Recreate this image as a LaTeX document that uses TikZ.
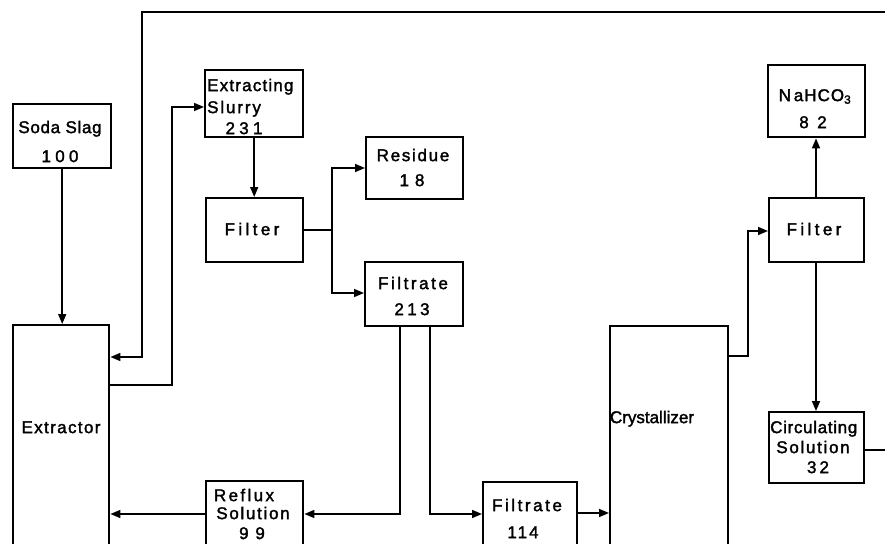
\documentclass[tikz,border=0pt]{standalone}
\usepackage{fontspec}
\setmainfont[FakeBold=1.8]{Liberation Sans}
\usetikzlibrary{arrows.meta}
\newcommand\lsp[2]{{\addfontfeature{LetterSpace=#1}#2}}
\begin{document}
\begin{tikzpicture}[x=1pt,y=-1pt,
  box/.style={draw, line width=2.4pt, inner sep=0pt, anchor=north west},
  lbl/.style={inner sep=0pt, font=\fontsize{17}{20}\selectfont, text height=12.2pt, text depth=0pt},
  arr/.style={line width=1.6pt, -{Triangle[length=10pt,width=8pt]}},
  ln/.style={line width=1.6pt}]
\useasboundingbox (0,0) rectangle (885,543);
\clip (0,0) rectangle (885,543);
\fill[white] (0,0) rectangle (885,543);
% boxes
\node[box, minimum width=98pt, minimum height=64pt] (soda) at (12,103) {};
\node[box, minimum width=98pt, minimum height=67pt] (slurry) at (204,69) {};
\node[box, minimum width=97pt, minimum height=64pt] (filter1) at (205,197) {};
\node[box, minimum width=97pt, minimum height=62pt] (residue) at (365,136) {};
\node[box, minimum width=98pt, minimum height=64pt] (filt213) at (364,261) {};
\node[box, minimum width=96pt, minimum height=240pt] (ext) at (12,324) {};
\node[box, minimum width=97pt, minimum height=90pt] (reflux) at (205,480) {};
\node[box, minimum width=94pt, minimum height=90pt] (filt114) at (482,481) {};
\node[box, minimum width=118pt, minimum height=240pt] (cryst) at (609,325) {};
\node[box, minimum width=97pt, minimum height=72pt] (nahco) at (767,64) {};
\node[box, minimum width=95pt, minimum height=64pt] (filter2) at (768,197) {};
\node[box, minimum width=95pt, minimum height=71pt] (circ) at (768,411) {};
% labels
\node[lbl] (soda-a) at (60,127) {\lsp{4}{Soda Slag}};
\node[lbl] (soda-b) at (60,156) {\lsp{25}{100}};
\node[lbl, anchor=west] (slurry-a) at (207,85) {\lsp{7}{Extracting}};
\node[lbl, anchor=west] (slurry-b) at (207,107) {\lsp{11}{Slurry}};
\node[lbl] (slurry-c) at (244,128) {\lsp{25}{231}};
\node[lbl] (filter1-a) at (252,229) {\lsp{20}{Filter}};
\node[lbl] (residue-a) at (413,155) {\lsp{10}{Residue}};
\node[lbl] (residue-b) at (412,180) {\lsp{35}{18}};
\node[lbl] (filt213-a) at (413,283) {\lsp{15}{Filtrate}};
\node[lbl] (filt213-b) at (412,309) {\lsp{20}{213}};
\node[lbl] (ext-a) at (61,427) {\lsp{8}{Extractor}};
\node[lbl] (reflux-a) at (244,495) {\lsp{14}{Reflux}};
\node[lbl] (reflux-b) at (253,513) {\lsp{10}{Solution}};
\node[lbl] (reflux-c) at (252,533) {\lsp{40}{99}};
\node[lbl] (filt114-a) at (527,505) {\lsp{15}{Filtrate}};
\node[lbl] (filt114-b) at (523,532) {\lsp{12}{114}};
\node[lbl] (cryst-a) at (652,417) {Crystallizer};
\node[lbl] (nahco-a) at (815,95) {\lsp{6}{N\,aHCO\textsubscript{3}}};
\node[lbl] (nahco-b) at (813,122) {\lsp{50}{82}};
\node[lbl] (filter2-a) at (814,229) {\lsp{20}{Filter}};
\node[lbl, anchor=west] (circ-a) at (770,427) {\lsp{4}{Circulating}};
\node[lbl] (circ-b) at (813,447) {\lsp{10}{Solution}};
\node[lbl] (circ-c) at (818,467) {\lsp{18}{32}};
% connectors
\coordinate (rin) at (890,12);
\coordinate (rout) at (890,450);
\coordinate (split) at (filter1.east -| 332,0);
\draw[arr] (soda.south) -- (soda.south |- ext.north);
\draw[arr] (rin) -| (142,357) -- (ext.east |- 0,357);
\draw[arr] (ext.east |- 0,385) -| (172,107) -- (slurry.west |- 0,107);
\draw[arr] (slurry.south) -- (slurry.south |- filter1.north);
\draw[ln] (filter1.east) -- (split);
\draw[arr] (split) |- (residue.west |- 0,168);
\draw[arr] (split) |- (filt213.west |- 0,293);
\draw[arr] (filt213.south -| 400,0) |- (reflux.east |- 0,514);
\draw[arr] (filt213.south -| 430,0) |- (filt114.west |- 0,514);
\draw[arr] (reflux.west |- 0,514) -- (ext.east |- 0,514);
\draw[arr] (filt114.east |- 0,513) -- (cryst.west |- 0,513);
\draw[arr] (cryst.east |- 0,356) -| (748,231) -- (filter2.west |- 0,231);
\draw[arr] (filter2.north -| 816,0) -- (nahco.south -| 816,0);
\draw[arr] (filter2.south -| 816,0) -- (circ.north -| 816,0);
\draw[ln] (circ.east |- 0,450) -- (rout);
\end{tikzpicture}
\end{document}
